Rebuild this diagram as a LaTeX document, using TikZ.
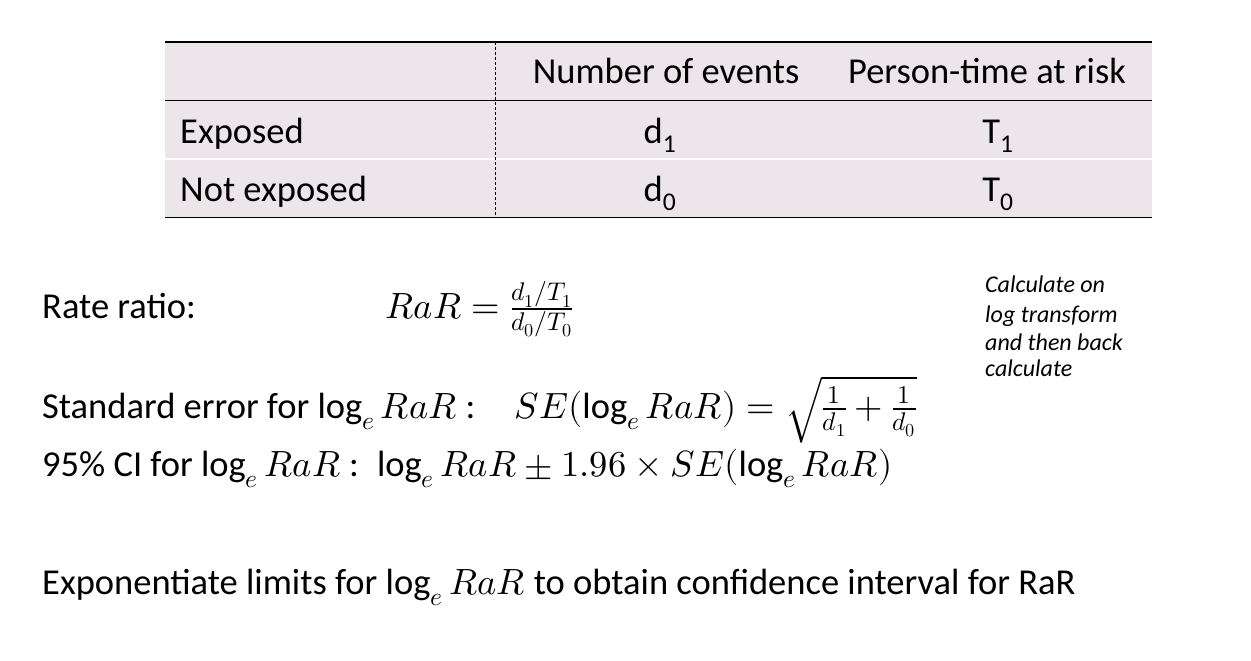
\documentclass[tikz,border=0pt]{standalone}
\usepackage{unicode-math}
\setmainfont{Carlito}
\setmathfont{Latin Modern Math}
\definecolor{cellbg}{HTML}{ECE6EA}
\begin{document}
\begin{tikzpicture}[x=1pt,y=-1pt,
  txt/.style={anchor=base west,inner sep=0pt,font=\fontsize{36.5}{40}\selectfont},
  ctxt/.style={anchor=base,inner sep=0pt,font=\fontsize{36.5}{40}\selectfont},
  note/.style={anchor=base west,inner sep=0pt,font=\fontsize{24}{26}\selectfont\itshape}]
\useasboundingbox (0,0) rectangle (1251,661);
\fill[cellbg] (165,42) rectangle (1152,158);
\fill[cellbg] (165,160) rectangle (1152,217);
\draw[line width=1.2pt] (165,42) -- (1152,42);
\draw[line width=1.2pt] (165,100.5) -- (1152,100.5);
\draw[line width=1.2pt] (165,217.5) -- (1152,217.5);
\draw[line width=0.9pt,dash pattern=on 3pt off 2pt] (495,42) -- (495,217.5);
\node[ctxt] (h1) at (666,84) {Number of events};
\node[ctxt] (h2) at (987,84) {Person-time at risk};
\node[txt] (r1) at (180,143) {Exposed};
\node[txt] (r2) at (180,201) {Not exposed};
\node[ctxt] (d1) at (660,143) {d\textsubscript{1}};
\node[ctxt] (t1) at (998,143) {T\textsubscript{1}};
\node[ctxt] (d0) at (660,201) {d\textsubscript{0}};
\node[ctxt] (t0) at (998,201) {T\textsubscript{0}};
\node[txt] (rr) at (42,318) {Rate ratio:};
\node[txt] (rrf) at (385,318) {$RaR=\frac{d_1/T_1}{d_0/T_0}$};
\node[txt] (se) at (42,418) {Standard error for $\log_e RaR$ :\enspace\; $SE(\log_e RaR)=\sqrt{\frac{1}{d_1}+\frac{1}{d_0}}$};
\node[txt] (ci) at (42,476) {95\% CI for $\log_e RaR$ :\enspace $\log_e RaR \pm 1.96\times SE(\log_e RaR)$};
\node[txt] (ex) at (42,594) {Exponentiate limits for $\log_e RaR$ to obtain confidence interval for RaR};
\node[note] (n1) at (985,292) {Calculate on};
\node[note] (n2) at (985,322) {log transform};
\node[note] (n3) at (985,350) {and then back};
\node[note] (n4) at (985,376) {calculate};
\end{tikzpicture}
\end{document}
